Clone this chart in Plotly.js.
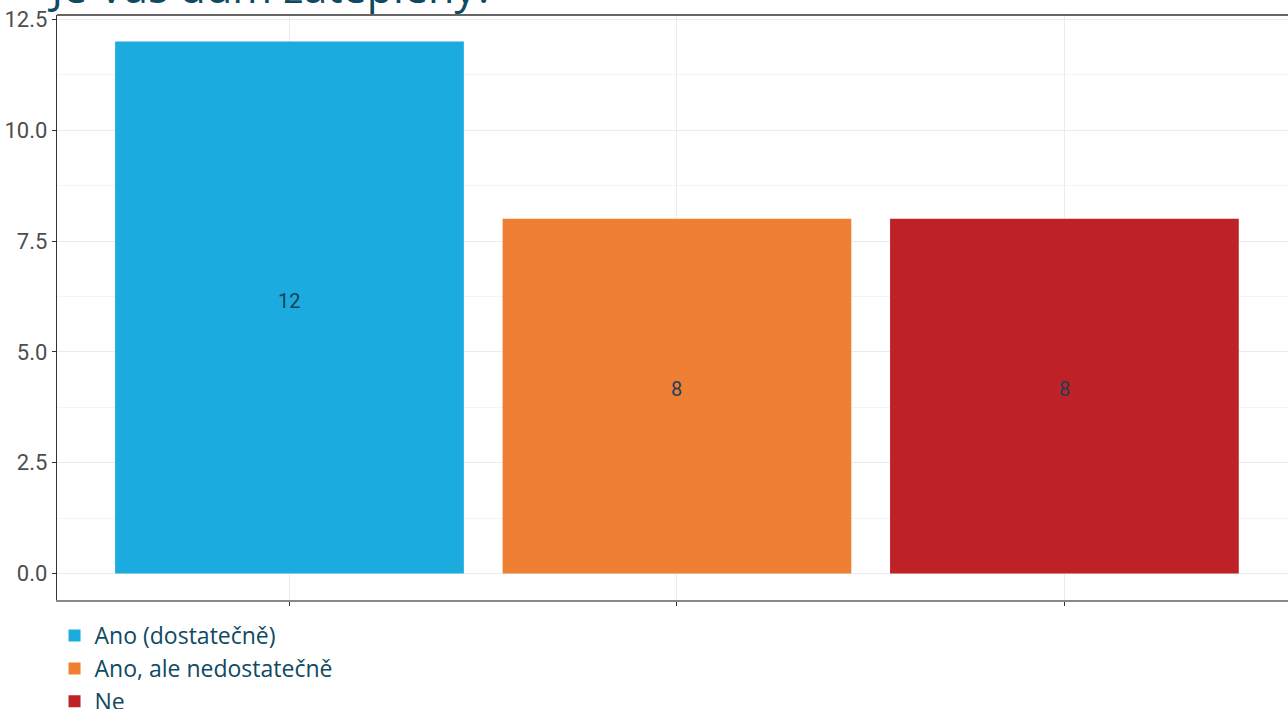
<!DOCTYPE html>
<html>
<head>
<meta charset="utf-8">
<script src="https://cdn.plot.ly/plotly-3.0.1.min.js"></script>
<style>html,body{margin:0;padding:0;background:#fff;}#chart{width:1288px;height:709px;}</style>
</head>
<body>
<div id="chart"></div>
<script>
const categories = ["Ano (dostatečně)", "Ano, ale nedostatečně", "Ne"];
const values = [12, 8, 8];
const colors = ["#1BABDF", "#EF8033", "#BE2226"];
const titleText = "Je Váš dům zateplený?";
const yTicks = [0, 2.5, 5, 7.5, 10, 12.5];

const traces = categories.map((c, i) => ({
  type: "bar",
  x: [c],
  y: [values[i]],
  name: c,
  width: 0.9,
  marker: {color: colors[i]},
  textposition: "none",
  hoverinfo: "none"
}));

const labelAnnotations = categories.map((c, i) => ({
  x: c, y: values[i] / 2, xref: "x", yref: "y",
  text: String(values[i]),
  showarrow: false,
  yshift: 7,
  font: {family: "Roboto, sans-serif", size: 20, color: "#1b3f5a"}
}));

const layout = {
  width: 1288,
  height: 709,
  margin: {l: 57, r: 0, t: 15, b: 109, autoexpand: false},
  paper_bgcolor: "#ffffff",
  plot_bgcolor: "#ffffff",
  bargap: 0.1,
  title: {
    text: titleText,
    font: {family: "'Open Sans', sans-serif", size: 43, color: "#0e4a62"},
    x: 0.04, xanchor: "left",
    xref: "container", yref: "paper",
    y: 1.0, yanchor: "bottom",
    pad: {b: 12}
  },
  xaxis: {
    type: "category",
    range: [-0.6, 2.577],
    showticklabels: false,
    ticks: "outside", ticklen: 4, tickcolor: "#333333",
    showgrid: true, gridcolor: "#ebebeb", gridwidth: 1,
    showline: true, linecolor: "#888888", linewidth: 1.5,
    zeroline: false, fixedrange: true
  },
  yaxis: {
    range: [-0.6, 12.6],
    tickvals: yTicks,
    tickformat: ".1f",
    ticks: "outside", ticklen: 4, tickcolor: "#333333",
    tickfont: {family: "Roboto, sans-serif", size: 22, color: "#4d4d4d"},
    showgrid: true, gridcolor: "#ebebeb", gridwidth: 1,
    minor: {tickvals: [1.25, 3.75, 6.25, 8.75, 11.25], showgrid: true, gridcolor: "#f4f4f4", gridwidth: 1, ticks: ""},
    showline: true, linecolor: "#333333", linewidth: 1.2,
    zeroline: false, fixedrange: true
  },
  shapes: [{
    type: "line", xref: "paper", yref: "paper",
    x0: 0, x1: 1, y0: 1, y1: 1,
    line: {color: "#333333", width: 1.5}
  }],
  annotations: labelAnnotations,
  showlegend: true,
  legend: {
    orientation: "v",
    x: -0.002, xanchor: "left",
    y: -0.024, yanchor: "top",
    font: {family: "'Open Sans', sans-serif", size: 23, color: "#0e4a62"},
    tracegroupgap: 0,
    itemwidth: 30,
    bgcolor: "rgba(0,0,0,0)"
  }
};

Plotly.newPlot("chart", traces, layout, {displayModeBar: false, staticPlot: true});
</script>
</body>
</html>
